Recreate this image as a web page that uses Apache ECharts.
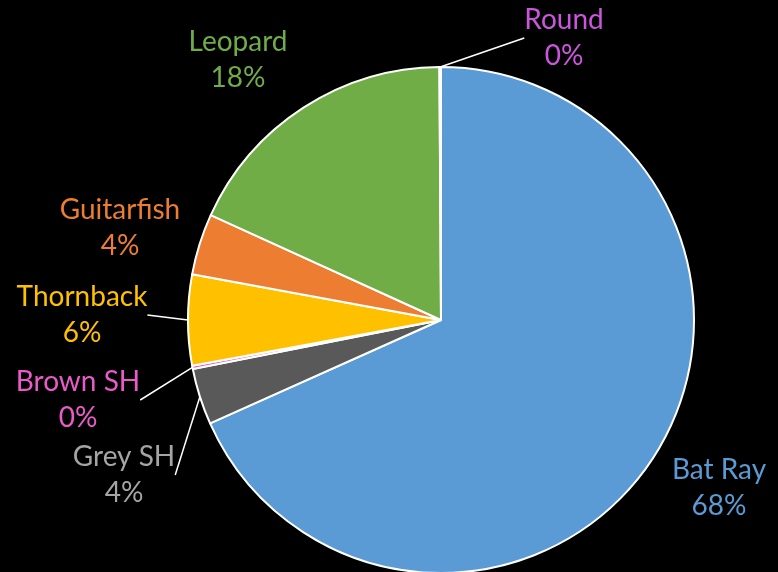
<!DOCTYPE html>
<html><head><meta charset="utf-8">
<script src="https://cdn.jsdelivr.net/npm/echarts@6/dist/echarts.min.js"></script>
<style>html,body{margin:0;padding:0;background:#000}#c{width:778px;height:572px}</style>
</head><body><div id="c"></div>
<script>
const categories = ['Bat Ray', 'Grey SH', 'Brown SH', 'Thornback', 'Guitarfish', 'Leopard', 'Round'];
const shares = [68.3, 3.6, 0.2, 5.8, 3.9, 18.1, 0.1];
const sliceColors = ['#5B9BD5', '#595959', '#E85BC8', '#FFC000', '#ED7D31', '#70AD47', '#CC55DD'];
const textColors = ['#5B9BD5', '#A5A5A5', '#E85BC8', '#FFC000', '#ED7D31', '#70AD47', '#CC55DD'];
const showLine = [false, true, true, true, false, false, true];
// label centre placement (layout only)
const labelPos = [[719, 488], [124, 475], [78, 400], [82, 315], [120, 228], [238, 60], [564, 38]];

const chart = echarts.init(document.getElementById('c'));
chart.setOption({
  backgroundColor: '#000',
  animation: false,
  series: [{
    type: 'pie',
    center: [441, 320],
    radius: 253,
    startAngle: 90,
    clockwise: true,
    avoidLabelOverlap: false,
    itemStyle: { borderColor: '#fff', borderWidth: 2 },
    label: {
      show: true,
      position: 'outside',
      fontFamily: 'Lato',
      fontSize: 28,
      lineHeight: 36,
      formatter: p => p.name + '\n' + Math.round(p.percent) + '%'
    },
    labelLine: { show: true, length: 10, length2: 0, lineStyle: { color: '#fff', width: 1.5 } },
    labelLayout: p => ({ x: labelPos[p.dataIndex][0], y: labelPos[p.dataIndex][1], align: 'center', verticalAlign: 'middle' }),
    data: categories.map((c, i) => ({
      name: c,
      value: shares[i],
      itemStyle: { color: sliceColors[i] },
      label: { color: textColors[i] },
      labelLine: { show: showLine[i] }
    }))
  }]
});
</script></body></html>
